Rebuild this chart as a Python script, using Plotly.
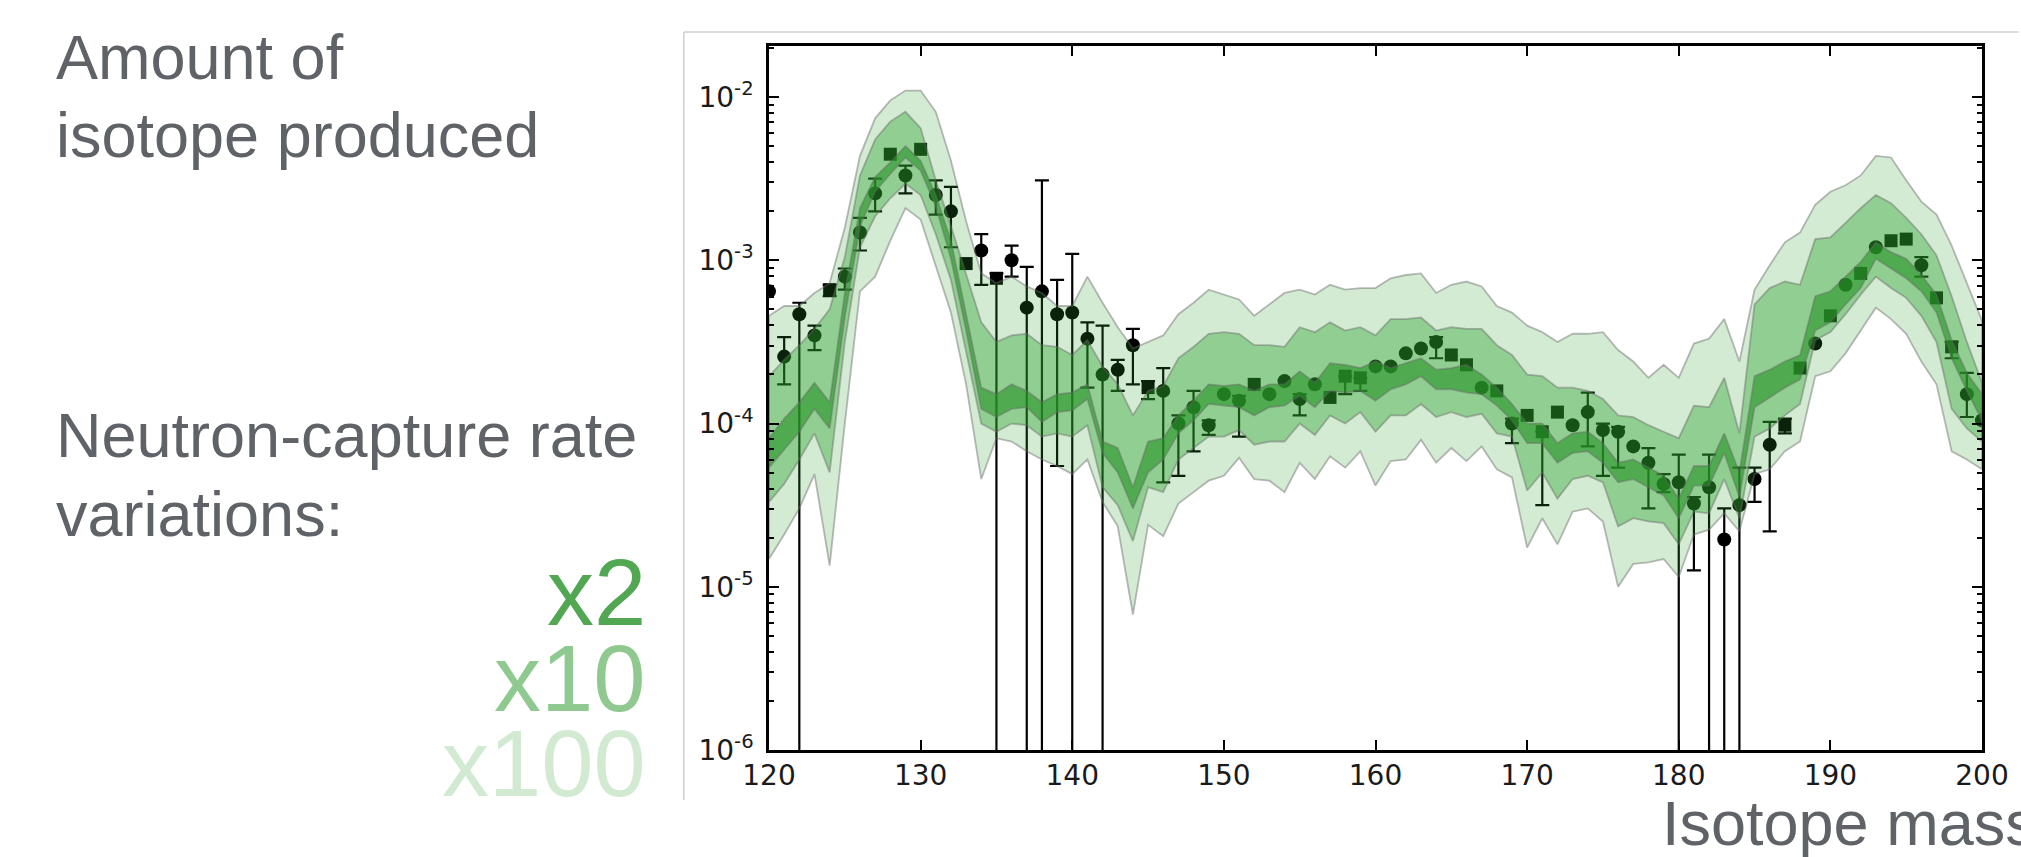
import plotly.graph_objects as go

# ---------------- data (log10 of amount) -------------
mass = list(range(120, 201))

x100_hi = [-3.34, -3.28, -3.28, -3.20, -3.14, -2.80, -2.36, -2.13, -2.02, -1.96,
           -1.96, -2.09, -2.39, -2.76, -3.08, -3.14, -3.10, -3.16, -3.20, -3.28,
           -3.28, -3.10, -3.26, -3.41, -3.54, -3.50, -3.46, -3.33, -3.26, -3.18,
           -3.21, -3.24, -3.34, -3.27, -3.20, -3.18, -3.21, -3.15, -3.18, -3.17,
           -3.17, -3.11, -3.09, -3.08, -3.20, -3.15, -3.13, -3.16, -3.28, -3.32,
           -3.40, -3.44, -3.50, -3.45, -3.45, -3.44, -3.55, -3.62, -3.72, -3.64,
           -3.72, -3.51, -3.48, -3.36, -3.62, -3.18, -3.03, -2.89, -2.83, -2.66,
           -2.58, -2.54, -2.48, -2.36, -2.37, -2.51, -2.64, -2.72, -2.91, -3.14,
           -3.37]
x10_hi = [-3.71, -3.61, -3.52, -3.42, -3.30, -2.98, -2.48, -2.26, -2.15, -2.09,
          -2.19, -2.51, -2.79, -3.08, -3.38, -3.50, -3.46, -3.45, -3.52, -3.53,
          -3.58, -3.49, -3.65, -3.76, -3.95, -3.80, -3.77, -3.60, -3.53, -3.45,
          -3.44, -3.45, -3.52, -3.52, -3.53, -3.41, -3.44, -3.38, -3.43, -3.41,
          -3.46, -3.36, -3.36, -3.35, -3.43, -3.41, -3.42, -3.42, -3.52, -3.58,
          -3.70, -3.71, -3.78, -3.78, -3.80, -3.85, -3.95, -3.96, -4.01, -4.05,
          -4.09, -3.89, -3.90, -3.72, -4.06, -3.27, -3.17, -3.13, -3.15, -2.87,
          -2.86, -2.77, -2.68, -2.60, -2.65, -2.74, -2.84, -2.97, -3.22, -3.50,
          -3.75]
x2_hi = [-4.09, -3.97, -3.87, -3.75, -3.87, -3.20, -2.68, -2.49, -2.40, -2.30,
         -2.39, -2.60, -2.88, -3.32, -3.78, -3.82, -3.76, -3.80, -3.87, -3.82,
         -3.81, -3.76, -4.11, -4.15, -4.39, -4.11, -4.09, -3.95, -3.86, -3.76,
         -3.77, -3.76, -3.80, -3.76, -3.76, -3.68, -3.75, -3.63, -3.64, -3.66,
         -3.62, -3.66, -3.63, -3.60, -3.67, -3.66, -3.64, -3.70, -3.78, -3.88,
         -4.00, -4.00, -4.12, -4.06, -4.05, -4.12, -4.24, -4.22, -4.27, -4.32,
         -4.46, -4.26, -4.26, -4.06, -4.30, -3.71, -3.67, -3.62, -3.58, -3.22,
         -3.19, -3.10, -3.01, -2.89, -2.95, -2.99, -3.09, -3.21, -3.49, -3.69,
         -3.82]
x2_lo = [-4.27, -4.16, -4.05, -3.91, -4.03, -3.35, -2.79, -2.58, -2.47, -2.37,
         -2.45, -2.67, -2.99, -3.43, -3.91, -3.96, -3.91, -3.90, -3.99, -3.93,
         -3.92, -3.85, -4.18, -4.30, -4.52, -4.30, -4.22, -4.06, -3.98, -3.88,
         -3.89, -3.90, -3.95, -3.90, -3.89, -3.83, -3.90, -3.80, -3.81, -3.80,
         -3.86, -3.79, -3.76, -3.71, -3.79, -3.79, -3.81, -3.82, -3.89, -3.98,
         -4.12, -4.12, -4.24, -4.18, -4.17, -4.24, -4.36, -4.34, -4.39, -4.44,
         -4.58, -4.38, -4.38, -4.18, -4.45, -3.90, -3.84, -3.78, -3.73, -3.43,
         -3.38, -3.27, -3.17, -2.99, -3.05, -3.11, -3.19, -3.32, -3.60, -3.80,
         -3.98]
x10_lo = [-4.48, -4.37, -4.22, -4.06, -4.30, -3.50, -2.92, -2.73, -2.62, -2.53,
          -2.60, -2.84, -3.12, -3.56, -4.00, -4.05, -4.00, -4.01, -4.08, -4.06,
          -4.08, -4.01, -4.39, -4.50, -4.72, -4.39, -4.42, -4.22, -4.15, -4.08,
          -4.08, -4.04, -4.13, -4.11, -4.11, -4.00, -4.07, -3.95, -4.00, -3.93,
          -4.05, -3.95, -3.95, -3.88, -3.96, -3.93, -3.96, -3.94, -4.06, -4.08,
          -4.41, -4.30, -4.46, -4.34, -4.32, -4.36, -4.63, -4.58, -4.60, -4.61,
          -4.74, -4.54, -4.55, -4.34, -4.58, -4.08, -4.03, -3.95, -3.88, -3.49,
          -3.44, -3.33, -3.21, -3.10, -3.17, -3.23, -3.34, -3.50, -3.91, -4.03,
          -4.11]
x100_lo = [-4.83, -4.68, -4.52, -4.31, -4.87, -4.00, -3.19, -3.10, -2.88, -2.68,
           -2.75, -3.03, -3.32, -3.76, -4.34, -4.09, -4.11, -4.17, -4.22, -4.26,
           -4.31, -4.22, -4.48, -4.63, -5.17, -4.62, -4.69, -4.49, -4.42, -4.35,
           -4.32, -4.21, -4.34, -4.35, -4.42, -4.24, -4.34, -4.20, -4.27, -4.17,
           -4.38, -4.23, -4.22, -4.10, -4.24, -4.15, -4.23, -4.14, -4.28, -4.33,
           -4.76, -4.58, -4.74, -4.54, -4.52, -4.60, -5.00, -4.86, -4.85, -4.83,
           -4.94, -4.68, -4.65, -4.55, -4.66, -4.31, -4.28, -4.17, -4.11, -3.71,
           -3.68, -3.57, -3.43, -3.29, -3.36, -3.45, -3.62, -3.76, -4.17, -4.22,
           -4.28]

OPEN = float("-inf")  # lower error limit not bounded (bar runs to the axis)

circle_mass = [120, 121, 122, 123, 125, 126, 127, 129, 131, 132, 134, 136, 137, 138, 139,
               140, 141, 142, 143, 144, 146, 147, 148, 149, 150, 151, 153, 154, 155, 156,
               160, 161, 162, 163, 164, 167, 169, 173, 174, 175, 176, 177, 178, 179, 180,
               181, 182, 183, 184, 185, 186, 189, 191, 193, 196, 199, 200]
circle_log = [-3.19, -3.59, -3.33, -3.46, -3.10, -2.83, -2.59, -2.48, -2.60, -2.70, -2.94,
              -3.00, -3.29, -3.19, -3.33, -3.32, -3.48, -3.70, -3.67, -3.52, -3.80, -4.00,
              -3.90, -4.01, -3.82, -3.86, -3.82, -3.74, -3.85, -3.76, -3.65, -3.65, -3.57,
              -3.54, -3.50, -3.78, -4.00, -4.01, -3.93, -4.04, -4.05, -4.14, -4.24, -4.37,
              -4.36, -4.49, -4.39, -4.71, -4.50, -4.34, -4.13, -3.51, -3.15, -2.92, -3.03,
              -3.82, -3.98]
circle_hi = [None, -3.47, -3.26, -3.40, -3.05, -2.74, -2.50, -2.42, -2.51, -2.55, -2.84,
             -2.91, -3.04, -2.51, -3.12, -2.96, -3.38, -3.40, -3.61, -3.42, -3.66, -3.95,
             -3.80, -3.98, None, -3.83, None, None, -3.82, None, None, None, None,
             None, -3.47, None, -3.97, None, -3.81, -4.00, -4.02, None, -4.15, -4.31,
             -4.19, -4.45, -4.19, -4.52, -4.27, -4.27, -3.99, None, None, None, -2.98,
             -3.69, None]
circle_lo = [None, -3.76, OPEN, -3.55, -3.18, -2.94, -2.70, -2.59, -2.72, -2.92, -3.15,
             -3.10, OPEN, OPEN, -4.26, OPEN, -3.78, OPEN, -3.80, -3.76, -4.36, -4.32,
             -4.17, -4.07, None, -4.08, None, None, -3.95, None, None, None, None,
             None, -3.60, None, -4.12, None, -4.14, -4.32, -4.27, None, -4.52, -4.42,
             OPEN, -4.90, OPEN, OPEN, OPEN, -4.48, -4.66, None, None, None, -3.10,
             -3.96, None]

square_mass = [124, 128, 130, 133, 135, 145, 152, 157, 158, 159, 165, 166, 168, 170, 171,
               172, 187, 188, 190, 192, 194, 195, 197, 198]
square_log = [-3.18, -2.35, -2.32, -3.02, -3.11, -3.78, -3.76, -3.84, -3.71, -3.72, -3.58,
              -3.64, -3.80, -3.95, -4.05, -3.93, -4.01, -3.66, -3.34, -3.08, -2.88, -2.87,
              -3.23, -3.53]
square_hi = [-3.15, None, None, None, -3.08, -3.74, None, None, None, None, None, None,
             None, None, None, None, -3.97, None, None, None, None, None, None, -3.50]
square_lo = [-3.22, None, None, None, OPEN, -3.85, None, None, -3.82, -3.80, None, None,
             None, None, -4.50, None, -4.06, None, None, None, None, None, None, -3.60]

x_ticks = [120, 130, 140, 150, 160, 170, 180, 190, 200]
y_decades = [-6, -5, -4, -3, -2]

# ---------------- helpers ----------------
W, H = 2021, 857
ML, MR, MT, MB = 769, 28, 46, 107
PW, PH = W - ML - MR, H - MT - MB
BOTTOM_PX = H - MB


def pxx(px):
    return (px - ML) / PW


def pxy(py):
    return (BOTTOM_PX - py) / PH


def lin(vals):
    return [10 ** v for v in vals]


def err_subset(ms, vs, his, los):
    xs, ys, plus, minus = [], [], [], []
    for m, v, h, lo in zip(ms, vs, his, los):
        if h is None and lo is None:
            continue
        y = 10 ** v
        xs.append(m)
        ys.append(y)
        plus.append((10 ** h - y) if h is not None else 0.0)
        minus.append((y - 10 ** lo) if lo is not None else 0.0)
    return xs, ys, plus, minus


fig = go.Figure()

# error bars (black, under the bands)
for ms, vs, his, los in [(circle_mass, circle_log, circle_hi, circle_lo),
                         (square_mass, square_log, square_hi, square_lo)]:
    ex, ey, ep, em = err_subset(ms, vs, his, los)
    fig.add_trace(go.Scatter(
        x=ex, y=ey, mode="markers", marker=dict(size=2, opacity=0),
        error_y=dict(type="data", symmetric=False, array=ep, arrayminus=em,
                     color="black", thickness=2.2, width=7),
        hoverinfo="skip"))

# markers
fig.add_trace(go.Scatter(x=circle_mass, y=lin(circle_log), mode="markers",
                         marker=dict(symbol="circle", size=14, color="black",
                                     line=dict(width=0))))
fig.add_trace(go.Scatter(x=square_mass, y=lin(square_log), mode="markers",
                         marker=dict(symbol="square", size=13, color="black",
                                     line=dict(width=0))))

# bands drawn on top (semi-transparent)
bands = [
    (x100_hi, x100_lo, "rgba(44,160,44,0.21)"),
    (x10_hi, x10_lo, "rgba(44,160,44,0.39)"),
    (x2_hi, x2_lo, "rgba(40,150,40,0.62)"),
]
for hi, lo, col in bands:
    xs = mass + mass[::-1] + [mass[0]]
    ys = lin(hi) + lin(lo)[::-1] + [10 ** hi[0]]
    fig.add_trace(go.Scatter(x=xs, y=ys, mode="lines", fill="toself", fillcolor=col,
                             line=dict(color="rgba(105,105,105,0.45)", width=1.8),
                             hoverinfo="skip"))

axis_font = dict(family="DejaVu Sans", size=28, color="#1a1a1a")
minor_vals = [d * 10.0 ** e for e in range(-6, -1) for d in range(2, 10)]

fig.update_layout(
    width=W, height=H,
    margin=dict(l=ML, r=MR, t=MT, b=MB, pad=0),
    paper_bgcolor="white", plot_bgcolor="white",
    showlegend=False,
    xaxis=dict(range=[120, 200], tickmode="array", tickvals=x_ticks,
               ticktext=[str(t) for t in x_ticks],
               ticks="inside", ticklen=10, tickwidth=2, tickcolor="black",
               showline=True, linecolor="black", linewidth=2.5, mirror="ticks",
               showgrid=False, zeroline=False, tickfont=axis_font,
               ticklabelstandoff=-1),
    yaxis=dict(type="log", range=[-6, -1.687], tickmode="array",
               tickvals=[10.0 ** d for d in y_decades],
               ticktext=["10<sup>%d</sup>" % d for d in y_decades],
               ticks="inside", ticklen=10, tickwidth=2, tickcolor="black",
               showline=True, linecolor="black", linewidth=2.5, mirror="ticks",
               showgrid=False, zeroline=False, tickfont=axis_font,
               ticklabelstandoff=7,
               minor=dict(tickmode="array", tickvals=minor_vals, ticks="inside",
                          ticklen=5, tickwidth=1.5, tickcolor="black", showgrid=False)),
)

# thin frame of the embedded chart
frame = "#cfcfcf"
fig.add_shape(type="line", xref="paper", yref="paper", x0=pxx(683), x1=pxx(683),
              y0=pxy(32), y1=pxy(800), line=dict(color=frame, width=1.5))
fig.add_shape(type="line", xref="paper", yref="paper", x0=pxx(683), x1=pxx(2030),
              y0=pxy(32), y1=pxy(32), line=dict(color=frame, width=1.5))

gray = "#5f6368"
texts = [
    ("Amount of", 48, 57, "left", 63, gray),
    ("isotope produced", 48, 135, "left", 63, gray),
    ("Neutron-capture rate", 48, 435, "left", 63, gray),
    ("variations:", 48, 514, "left", 63, gray),
    ("x2", 647, 592, "right", 94, "#52a852"),
    ("x10", 647, 678, "right", 94, "#8fc98f"),
    ("x100", 647, 764, "right", 94, "#d2ead2"),
    ("Isotope mass", 1668, 823, "left", 63, gray),
]
for t, x, y, anc, size, col in texts:
    fig.add_annotation(text=t, x=pxx(x), y=pxy(y), xref="paper", yref="paper",
                       xanchor=anc, yanchor="middle", showarrow=False,
                       font=dict(family="Liberation Sans", size=size, color=col))

fig.write_html("out.html",
               config={"displayModeBar": False},
               post_script="document.body.style.margin='0px';"
                           "document.body.style.overflow='hidden';")
